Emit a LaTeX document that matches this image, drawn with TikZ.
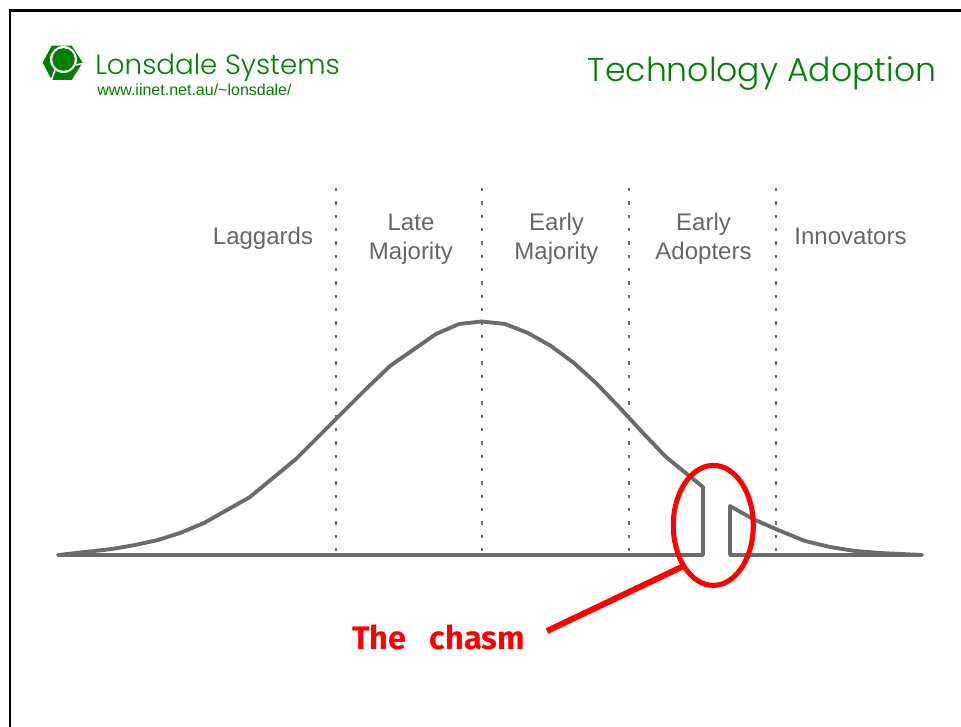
\documentclass[tikz,border=0pt]{standalone}
\usepackage{fontspec}
\usepackage{xcolor}
\setmainfont{Liberation Sans}
\newfontfamily\logofont{Poppins Light}
\newfontfamily\handfont{Fira Sans Bold}
\usetikzlibrary{shapes.geometric, positioning}
\definecolor{lonsdalegreen}{RGB}{0, 128, 0}
\definecolor{curvegray}{RGB}{107, 107, 107}
\definecolor{labelgray}{RGB}{102, 102, 102}
\tikzset{
    groupLabel/.style={labelgray, align=center, font=\fontsize{18}{21.75}\selectfont},
    curveLine/.style={curvegray, line width=2.9pt, line join=round, line cap=round},
    divider/.style={curvegray, line width=1.6pt, dash pattern=on 2.4pt off 7.6pt},
    chasmMark/.style={red, line width=4.5pt}
}

\begin{document}
\begin{tikzpicture}[x=0.75pt, y=-0.75pt]
    \useasboundingbox (0,0) rectangle (961,727);

    % Page frame
    \draw[black, line width=2.2pt] (10,727) -- (10,10.5) -- (961,10.5);

    % Logo
    \fill[lonsdalegreen] (42.7,62.5) -- (51.7,45.7) -- (71.7,45.7) -- (82.7,62.5) -- (71.7,80) -- (51.7,80) -- cycle;
    \fill[white] (63.5,59.5) circle (13.5);
    \fill[lonsdalegreen] (63.5,59.5) circle (11.3);
    \draw[white, line width=1.1pt] (55,70) -- (51,81);
    \draw[white, line width=1.1pt] (76,65) -- (84,63);

    % Headings
    \node[lonsdalegreen, anchor=base west, inner sep=0pt, font=\logofont\fontsize{20.8}{24}\selectfont] (company) at (95,75) {Lonsdale Systems};
    \node[lonsdalegreen, anchor=base west, inner sep=0pt, font=\fontsize{12}{14}\selectfont] (website) at (97,95.5) {www.iinet.net.au/\textasciitilde lonsdale/};
    \node[lonsdalegreen, anchor=base east, inner sep=0pt, font=\logofont\fontsize{24.8}{30}\selectfont] (title) at (936.5,82) {Technology Adoption};

    % Dividers
    \foreach \x in {336, 482, 629, 776} {
        \draw[divider] (\x,188) -- (\x,555);
    }

    % Group labels
    \node[groupLabel] (laggards) at (263,238) {Laggards};
    \node[groupLabel] (lateMajority) at (411,239) {Late\\Majority};
    \node[groupLabel] (earlyMajority) at (556.5,239) {Early\\Majority};
    \node[groupLabel] (earlyAdopters) at (703.5,239) {Early\\Adopters};
    \node[groupLabel] (innovators) at (850.5,236) {Innovators};

    % Adoption curve, left part
    \draw[curveLine] (703,555) -- (58,555) -- (85,552) -- (112,549) -- (135,545) -- (158,540) -- (180,533)
        -- (204,523) -- (227,510) -- (250,497) -- (273,478) -- (296,459) -- (318,437) -- (340,415)
        -- (365,390) -- (390,366) -- (413,350) -- (436,334) -- (459,324) -- (482,321.5) -- (505,324)
        -- (528,333) -- (551,346) -- (574,363) -- (597,384) -- (620,408) -- (643,433) -- (666,457)
        -- (703,487) -- cycle;

    % Adoption curve, right part
    \draw[curveLine] (730,555) -- (922,555) -- (880,553) -- (855,551) -- (830,547) -- (805,541)
        -- (778,530) -- (753,519) -- (730,506) -- cycle;

    % The chasm
    \node[draw=red, ellipse, line width=3.8pt, minimum width=60pt, minimum height=90pt, inner sep=0pt, outer sep=0pt] (chasmRing) at (713.3,525.4) {};
    \node[red, anchor=base west, inner sep=0pt, font=\handfont\fontsize{24.4}{28}\selectfont] (chasmLabel) at (352,649) {The\hspace{0.72em}chasm};
    \coordinate (chasmTail) at (547,631);
    \draw[chasmMark] (chasmTail) -- (chasmRing.234);
\end{tikzpicture}
\end{document}
